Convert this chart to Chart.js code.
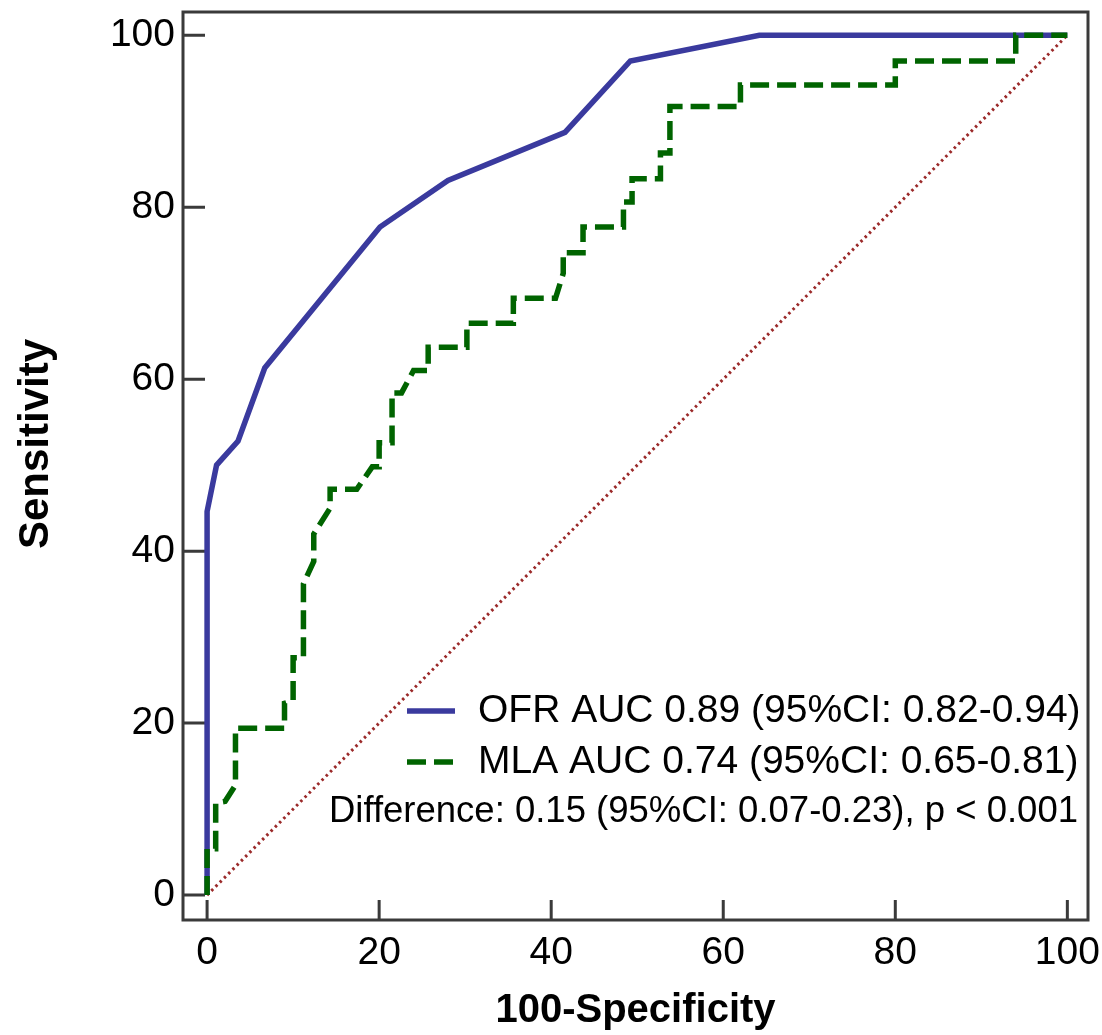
<!DOCTYPE html>
<html>
<head>
<meta charset="utf-8">
<script src="https://cdn.jsdelivr.net/npm/chart.js@4.4.0/dist/chart.umd.min.js"></script>
<style>
  html, body { margin: 0; padding: 0; background: #fff; }
  #wrap { width: 1102px; height: 1035px; position: relative; }
</style>
</head>
<body>
<div id="wrap"><canvas id="rocCanvas"></canvas></div>
<script>
// ROC points: x = 100-Specificity, y = Sensitivity
var ofrX = [0, 0, 1.1, 3.6, 6.7, 20.1, 28.0, 41.6, 49.2, 64.2, 100];
var ofrY = [0, 44.6, 50.0, 52.8, 61.3, 77.7, 83.1, 88.7, 97.0, 100, 100];

var mlaX = [0, 0, 1.0, 1.0, 2.1, 3.3, 3.3, 9.0, 9.0, 10.0, 10.0, 11.2, 11.2, 12.4, 12.4, 14.3, 14.3, 17.4, 19.2, 20.0,
            20.0, 21.5, 21.5, 22.6, 24.0, 25.7, 25.7, 30.2, 30.2, 35.6, 35.6, 40.5, 41.4, 41.4, 43.7, 43.7, 48.4, 48.4,
            49.4, 49.4, 52.7, 52.7, 53.8, 53.8, 62.0, 62.0, 80.0, 80.0, 94.0, 94.0, 100];
var mlaY = [0, 5.4, 5.4, 10.7, 10.9, 12.8, 19.4, 19.4, 22.3, 22.6, 27.6, 27.6, 36.2, 38.8, 42.0, 45.0, 47.2, 47.2, 49.8, 49.8,
            52.6, 52.6, 58.4, 58.4, 61.0, 61.0, 63.7, 63.7, 66.5, 66.5, 69.4, 69.4, 72.3, 74.7, 74.7, 77.7, 77.7, 80.6,
            80.6, 83.3, 83.3, 86.3, 86.3, 91.7, 91.7, 94.2, 94.2, 97.0, 97.0, 100, 100];

var refX = [0, 100];
var refY = [0, 100];

var tickValues = [0, 20, 40, 60, 80, 100];
var seriesLabels = ['OFR AUC 0.89 (95%CI: 0.82-0.94)', 'MLA AUC 0.74 (95%CI: 0.65-0.81)'];
var diffText = 'Difference: 0.15 (95%CI: 0.07-0.23), p < 0.001';
var yTitle = 'Sensitivity';

var fontFamily = '"Liberation Sans", Arial, sans-serif';

function toPoints(xs, ys) {
    var pts = [];
    for (var i = 0; i < xs.length; i++) {
        pts.push({ x: xs[i], y: ys[i] });
    }
    return pts;
}

// frame, inward ticks, y title and the legend box inside the plot
var rocDecor = {
    id: 'rocDecor',
    beforeDatasetsDraw: function (chart) {
        var ctx = chart.ctx, a = chart.chartArea;
        var xs = chart.scales.x, ys = chart.scales.y;
        ctx.save();
        ctx.strokeStyle = '#3a3a3a';
        ctx.lineWidth = 3;
        ctx.strokeRect(a.left, a.top, a.right - a.left, a.bottom - a.top);
        ctx.beginPath();
        tickValues.forEach(function (v) {
            var px = xs.getPixelForValue(v);
            ctx.moveTo(px, a.bottom);
            ctx.lineTo(px, a.bottom - 20);
            var py = ys.getPixelForValue(v);
            ctx.moveTo(a.left, py);
            ctx.lineTo(a.left + 22, py);
        });
        ctx.stroke();

        ctx.translate(36, (a.top + a.bottom) / 2 - 22);
        ctx.rotate(-Math.PI / 2);
        ctx.font = 'bold 42px ' + fontFamily;
        ctx.fillStyle = '#000';
        ctx.textAlign = 'center';
        ctx.textBaseline = 'middle';
        ctx.fillText(yTitle, 0, 0);
        ctx.restore();
    },
    afterDatasetsDraw: function (chart) {
        var ctx = chart.ctx, a = chart.chartArea;
        var rows = [a.bottom - 209, a.bottom - 158];
        ctx.save();
        ctx.textBaseline = 'middle';
        ctx.fillStyle = '#000';
        for (var i = 0; i < 2; i++) {
            var ds = chart.data.datasets[i];
            ctx.strokeStyle = ds.borderColor;
            ctx.lineWidth = ds.borderWidth;
            ctx.setLineDash(ds.borderDash || []);
            ctx.beginPath();
            ctx.moveTo(a.left + 224, rows[i]);
            ctx.lineTo(a.left + 272, rows[i]);
            ctx.stroke();
            ctx.setLineDash([]);
            ctx.font = '39px ' + fontFamily;
            ctx.textAlign = 'left';
            ctx.fillText(ds.label, a.left + 295, rows[i]);
        }
        ctx.font = '36.5px ' + fontFamily;
        ctx.textAlign = 'right';
        ctx.fillText(diffText, a.right - 10, a.bottom - 108);
        ctx.restore();
    }
};

var chartdata = {
    datasets: [
        {
            label: seriesLabels[0],
            data: toPoints(ofrX, ofrY),
            borderColor: '#3a3a9e',
            borderWidth: 5.5,
            showLine: true,
            pointRadius: 0,
            order: 2
        },
        {
            label: seriesLabels[1],
            data: toPoints(mlaX, mlaY),
            borderColor: '#006400',
            borderWidth: 5.5,
            borderDash: [19, 8],
            showLine: true,
            pointRadius: 0,
            order: 1
        },
        {
            label: 'reference',
            data: toPoints(refX, refY),
            borderColor: '#9b2a2a',
            borderWidth: 3,
            borderDash: [2.5, 3.5],
            showLine: true,
            pointRadius: 0,
            order: 3
        }
    ]
};

var rocChart = new Chart(document.getElementById('rocCanvas'), {
    type: 'scatter',
    data: chartdata,
    options: {
        responsive: true,
        maintainAspectRatio: false,
        animation: false,
        layout: { padding: { top: 12, right: 14, left: 0, bottom: 0 } },
        plugins: {
            legend: { display: false },
            tooltip: { enabled: false }
        },
        scales: {
            x: {
                type: 'linear',
                min: -2.8,
                max: 102.4,
                grid: { display: false, drawTicks: false },
                border: { display: false },
                afterBuildTicks: function (s) { s.ticks = tickValues.map(function (v) { return { value: v }; }); },
                afterFit: function (s) { s.height = 115; s.paddingLeft = 0; s.paddingRight = 0; },
                ticks: { font: { family: fontFamily, size: 39 }, color: '#000', padding: 10, maxRotation: 0 },
                title: { display: true, text: '100-Specificity', color: '#000',
                         font: { family: fontFamily, size: 40, weight: 'bold' }, padding: { top: 0, bottom: 0 } }
            },
            y: {
                type: 'linear',
                min: -2.9,
                max: 102.7,
                grid: { display: false, drawTicks: false },
                border: { display: false },
                afterBuildTicks: function (s) { s.ticks = tickValues.map(function (v) { return { value: v }; }); },
                afterFit: function (s) { s.width = 183; s.paddingTop = 0; s.paddingBottom = 0; },
                ticks: { font: { family: fontFamily, size: 39 }, color: '#000', padding: 8 }
            }
        }
    },
    plugins: [rocDecor]
});
</script>
</body>
</html>
